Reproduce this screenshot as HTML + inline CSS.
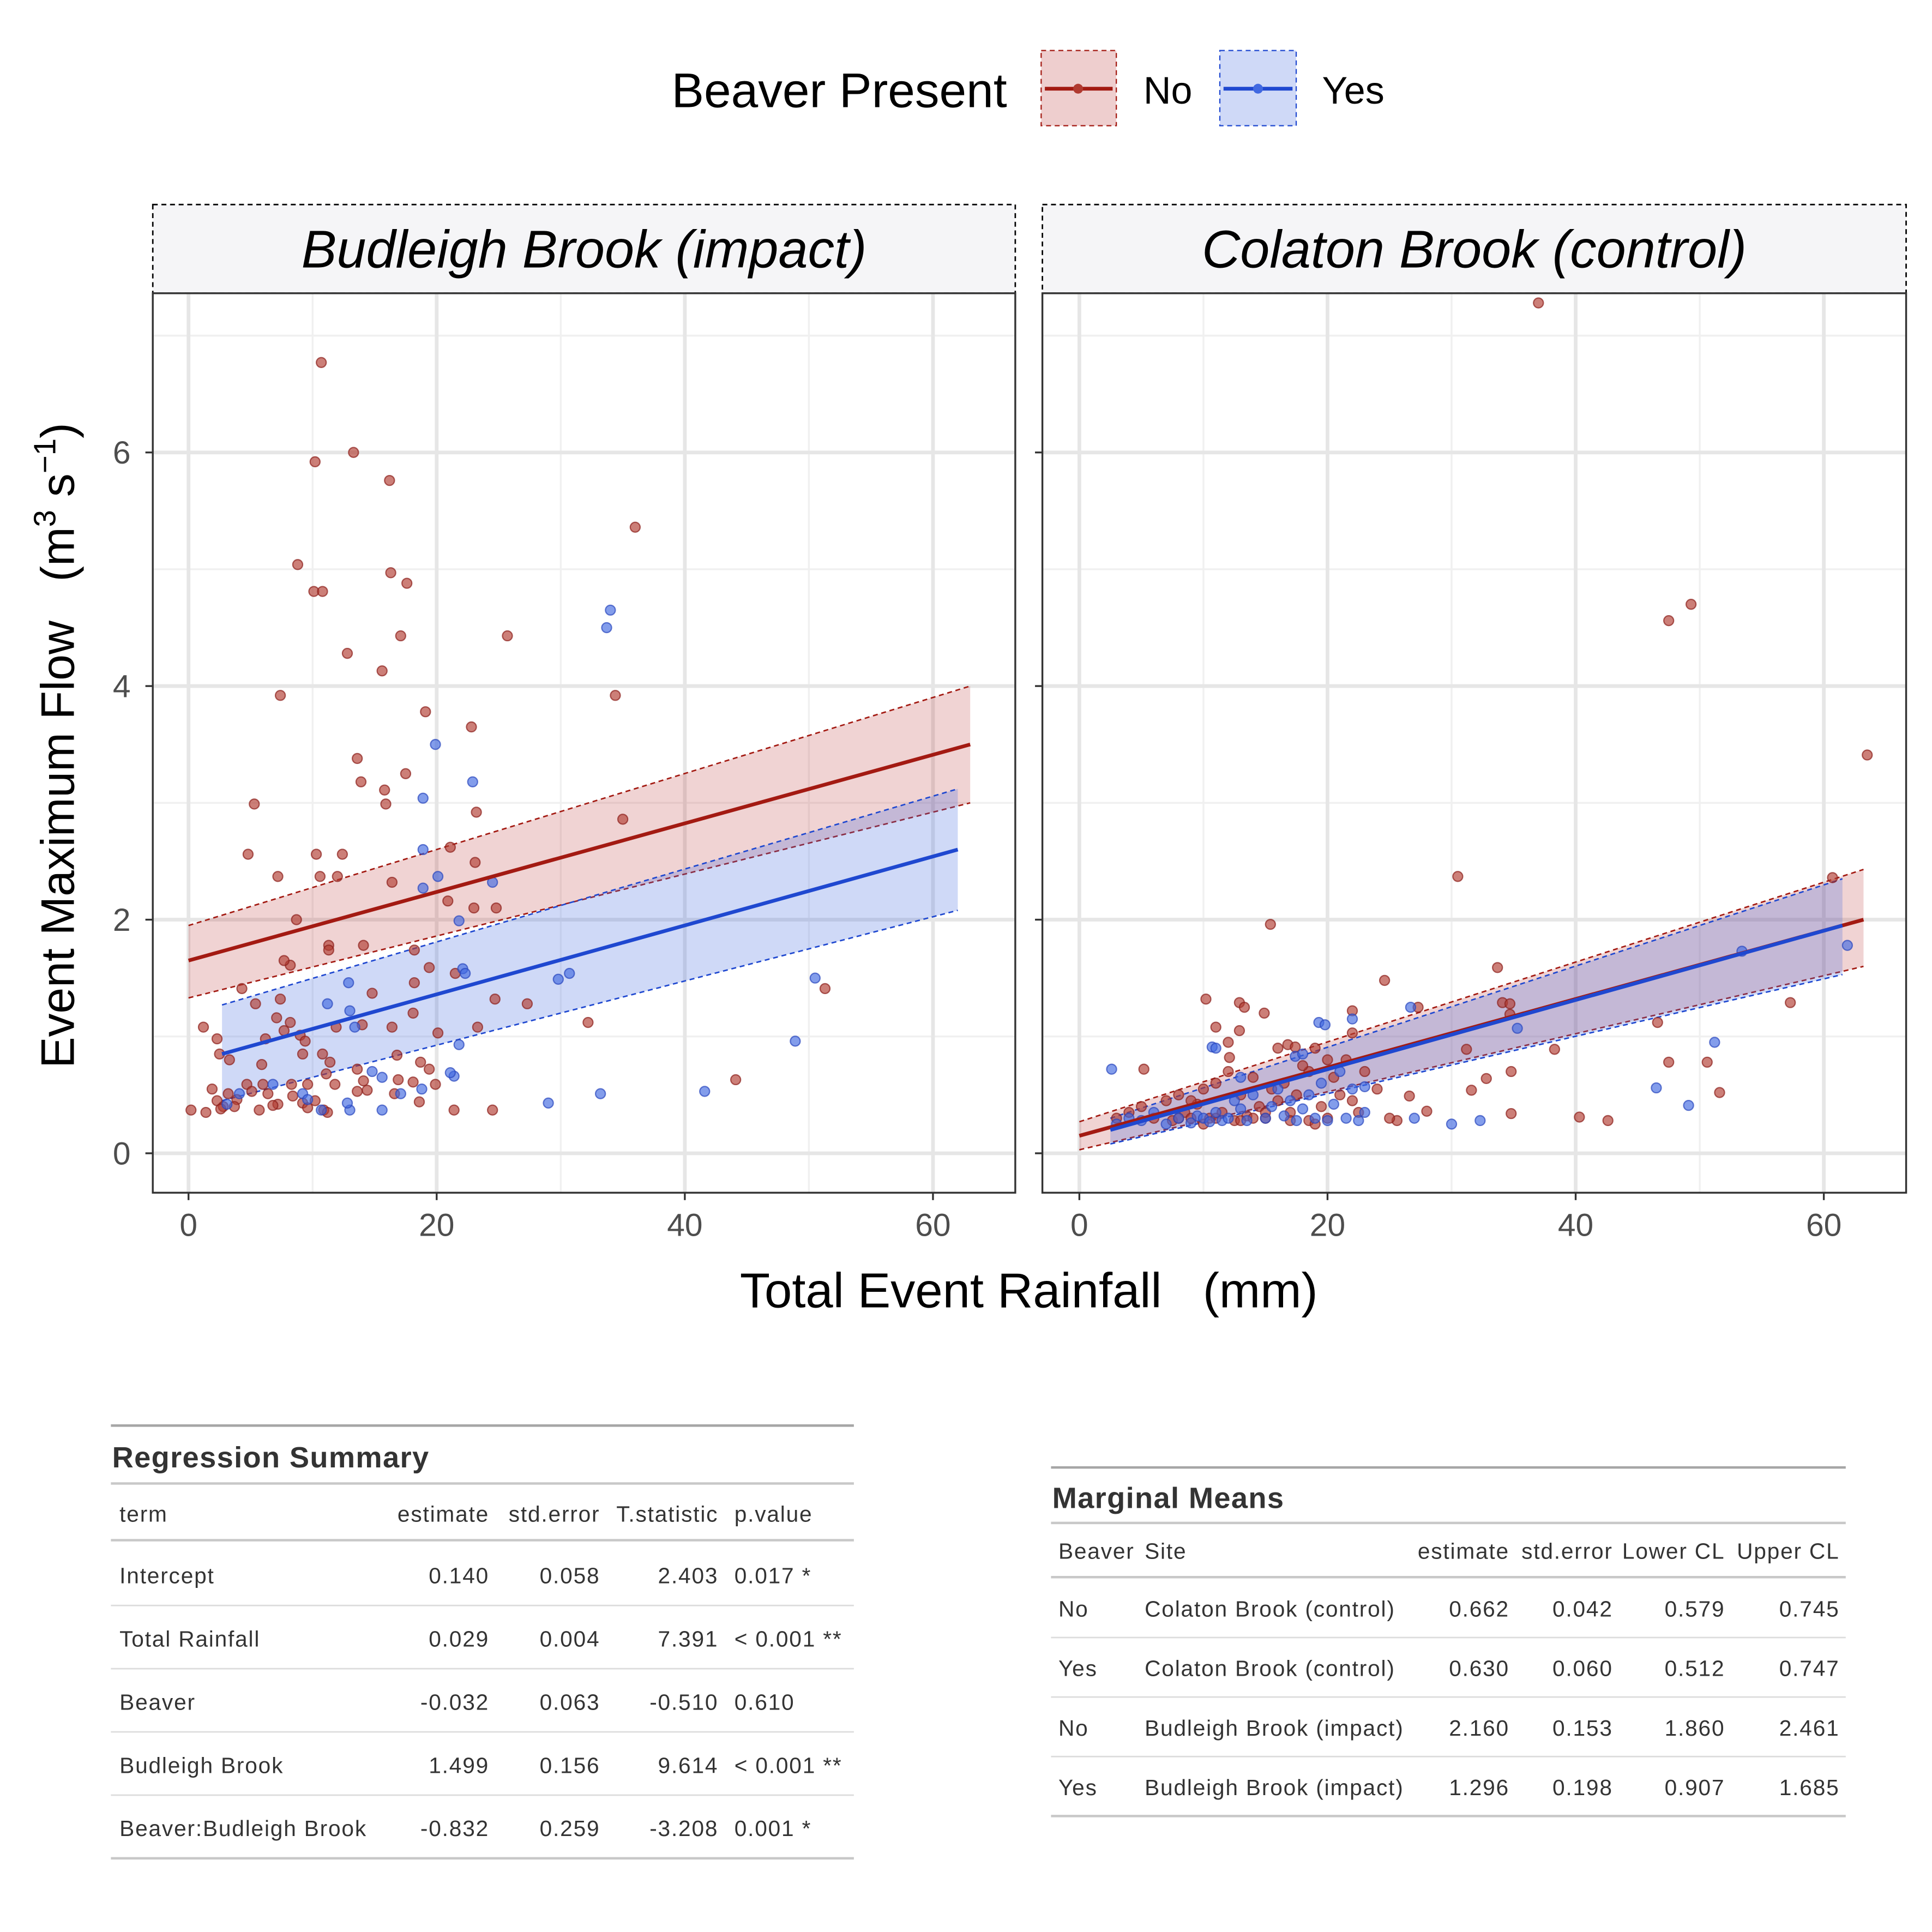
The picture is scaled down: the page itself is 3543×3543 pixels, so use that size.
<!DOCTYPE html>
<html><head><meta charset="utf-8">
<style>
html,body{margin:0;padding:0;background:#fff;}
svg{display:block;font-family:"Liberation Sans",Arial,sans-serif;}
</style></head>
<body>
<svg id="chart" width="3543" height="3543" viewBox="0 0 1568 1568" xmlns="http://www.w3.org/2000/svg">
<rect width="1568" height="1568" fill="#fff"/>
<!-- Legend -->
<g>
  <text x="545" y="87" font-size="39.5" fill="#000">Beaver Present</text>
  <g>
    <rect x="845" y="41" width="61" height="61" fill="rgba(178,34,34,0.22)" stroke="#a31a12" stroke-dasharray="4,3" stroke-width="1"/>
    <line x1="848" y1="72" x2="903" y2="72" stroke="#a31a12" stroke-width="3"/>
    <circle cx="875" cy="72" r="4" fill="#b03a30"/>
    <text x="928" y="84" font-size="31">No</text>
  </g>
  <g>
    <rect x="990" y="41" width="62" height="61" fill="rgba(65,105,225,0.25)" stroke="#1f48d0" stroke-dasharray="4,3" stroke-width="1"/>
    <line x1="993" y1="72" x2="1049" y2="72" stroke="#1f48d0" stroke-width="3"/>
    <circle cx="1021" cy="72" r="4" fill="#4169e1"/>
    <text x="1073" y="84" font-size="31">Yes</text>
  </g>
</g>
<g id="panels"></g>
<text xml:space="preserve" transform="translate(60,605) rotate(-90)" text-anchor="middle" font-size="38">Event Maximum Flow   (m<tspan font-size="25" dy="-15">3</tspan><tspan dy="15"> s</tspan><tspan font-size="25" dy="-15">−1</tspan><tspan dy="15">)</tspan></text>
<text x="835" y="1061" text-anchor="middle" font-size="40" xml:space="preserve">Total Event Rainfall   (mm)</text>

<!-- Regression summary table -->
<g font-size="18" letter-spacing="0.8" fill="#333">
  <line x1="90" y1="1157" x2="693" y2="1157" stroke="#a6a6a6" stroke-width="2"/>
  <text x="91" y="1191" font-size="24" letter-spacing="0.6" font-weight="bold" fill="#333">Regression Summary</text>
  <line x1="90" y1="1204" x2="693" y2="1204" stroke="#c8c8c8" stroke-width="2"/>
  <text x="97" y="1235">term</text>
  <text x="397" y="1235" text-anchor="end">estimate</text>
  <text x="487" y="1235" text-anchor="end">std.error</text>
  <text x="583" y="1235" text-anchor="end">T.statistic</text>
  <text x="596" y="1235">p.value</text>
  <line x1="90" y1="1250" x2="693" y2="1250" stroke="#c8c8c8" stroke-width="2"/>
  <g id="regrows"></g>
</g>
<!-- Marginal means table -->
<g font-size="18" letter-spacing="0.8" fill="#333">
  <line x1="853" y1="1191" x2="1498" y2="1191" stroke="#a6a6a6" stroke-width="2"/>
  <text x="854" y="1224" font-size="24" letter-spacing="0.6" font-weight="bold">Marginal Means</text>
  <line x1="853" y1="1236" x2="1498" y2="1236" stroke="#c8c8c8" stroke-width="2"/>
  <text x="859" y="1265">Beaver</text>
  <text x="929" y="1265">Site</text>
  <text x="1225" y="1265" text-anchor="end">estimate</text>
  <text x="1309" y="1265" text-anchor="end">std.error</text>
  <text x="1400" y="1265" text-anchor="end">Lower CL</text>
  <text x="1493" y="1265" text-anchor="end">Upper CL</text>
  <line x1="853" y1="1280" x2="1498" y2="1280" stroke="#c8c8c8" stroke-width="2"/>
  <g id="mmrows"></g>
</g>
</svg>
<script>
// ---- data ----
const xTicks = [0, 20, 40, 60];
const yTicks = [0, 2, 4, 6];
const budNo = [[10.7,6.77],[10.2,5.92],[13.3,6.0],[16.2,5.76],[36,5.36],[8.8,5.04],[16.3,4.97],[17.6,4.88],[10.1,4.81],[10.8,4.81],[12.8,4.28],[17.1,4.43],[25.7,4.43],[15.6,4.13],[7.4,3.92],[34.4,3.92],[19.1,3.78],[22.8,3.65],[13.6,3.38],[13.9,3.18],[17.5,3.25],[15.8,3.11],[15.9,2.99],[5.3,2.99],[23.2,2.92],[35,2.86],[4.8,2.56],[10.3,2.56],[12.4,2.56],[21.1,2.62],[23.1,2.49],[10.6,2.37],[12,2.37],[7.2,2.37],[16.4,2.32],[20.9,2.16],[23,2.1],[24.8,2.1],[8.7,2.0],[8.2,1.61],[7.7,1.65],[11.3,1.78],[11.3,1.74],[14.1,1.78],[18.2,1.74],[19.4,1.59],[21.5,1.54],[4.3,1.41],[14.8,1.37],[18.2,1.46],[24.7,1.32],[27.3,1.28],[5.4,1.28],[7.4,1.32],[7.1,1.16],[8.2,1.12],[7.7,1.05],[6.2,0.98],[9.0,1.01],[9.4,0.96],[11.9,1.08],[14.0,1.10],[16.4,1.08],[20.1,1.03],[23.3,1.08],[32.2,1.12],[18.1,1.2],[1.2,1.08],[2.3,0.98],[2.5,0.85],[3.3,0.80],[9.2,0.85],[10.8,0.85],[11.4,0.78],[5.9,0.76],[13.6,0.72],[16.8,0.84],[18.7,0.78],[19.4,0.72],[14.1,0.62],[14.4,0.54],[16.9,0.63],[18.1,0.61],[19.9,0.59],[1.9,0.55],[3.2,0.51],[4.7,0.59],[6.0,0.59],[8.3,0.59],[9.6,0.59],[11.1,0.68],[2.3,0.45],[2.8,0.4],[3.9,0.46],[5.1,0.53],[6.4,0.51],[7.2,0.42],[8.4,0.49],[9.2,0.43],[10.2,0.45],[11.8,0.59],[13.6,0.53],[16.6,0.51],[18.6,0.44],[0.2,0.37],[1.4,0.35],[2.6,0.38],[3.7,0.4],[5.7,0.37],[6.8,0.41],[9.6,0.39],[10.9,0.37],[11.2,0.35],[21.4,0.37],[24.5,0.37],[44.1,0.63],[51.3,1.41]];
const budYes = [[19.9,3.5],[22.9,3.18],[34,4.65],[33.7,4.5],[18.9,3.04],[18.9,2.6],[20.1,2.37],[24.5,2.32],[18.9,2.27],[21.8,1.99],[22.1,1.58],[22.3,1.54],[29.8,1.49],[30.7,1.54],[50.5,1.5],[12.9,1.46],[11.2,1.28],[13,1.22],[13.4,1.08],[48.9,0.96],[21.8,0.93],[14.8,0.7],[15.6,0.65],[21.4,0.66],[21.1,0.69],[18.8,0.55],[17.1,0.51],[9.2,0.51],[41.6,0.53],[33.2,0.51],[29,0.43],[4.1,0.51],[10.7,0.37],[13,0.37],[15.6,0.37],[12.8,0.43],[9.6,0.46],[6.8,0.59],[3.1,0.42]];
const colNo = [[37,7.28],[49.3,4.7],[47.5,4.56],[63.5,3.41],[30.5,2.37],[60.7,2.36],[15.4,1.96],[24.6,1.48],[33.7,1.59],[57.3,1.29],[10.2,1.32],[12.9,1.29],[13.3,1.25],[14.9,1.2],[22.0,1.22],[27.3,1.25],[34.1,1.29],[34.7,1.28],[34.7,1.19],[46.6,1.12],[11.0,1.08],[12.9,1.05],[16.8,0.93],[17.4,0.91],[22,1.03],[38.3,0.89],[31.2,0.89],[47.5,0.78],[50.6,0.78],[34.8,0.7],[32.8,0.64],[20,0.8],[18.5,0.7],[12.1,0.82],[5.2,0.72],[31.6,0.54],[51.6,0.52],[26.6,0.49],[40.3,0.31],[42.6,0.28],[34.8,0.34],[28,0.36],[25.6,0.28],
[3,0.3],[4,0.35],[5,0.4],[6,0.3],[7,0.45],[7.5,0.28],[8,0.5],[8.5,0.35],[9,0.3],[9.5,0.42],[10,0.55],[10.5,0.3],[11,0.6],[11.5,0.35],[12,0.7],[12.5,0.28],[13,0.5],[13.5,0.32],[14,0.65],[14.5,0.4],[15,0.3],[15.5,0.55],[16,0.45],[16.5,0.6],[17,0.35],[17.5,0.5],[18,0.75],[18.5,0.28],[19,0.9],[19.5,0.4],[20,0.3],[20.5,0.65],[21,0.5],[21.5,0.8],[22,0.45],[22.5,0.35],[23,0.7],[24,0.55],[25,0.3],[12,0.95],[10,0.25],[13,0.28],[15,0.35],[17,0.28],[19,0.25],[16,0.9],[14,0.3],[11,0.3],[9,0.45],[8,0.3]];
const colYes = [[2.6,0.72],[19.3,1.12],[19.8,1.1],[22,1.15],[26.7,1.25],[35.3,1.07],[51.2,0.95],[53.4,1.73],[61.9,1.78],[46.5,0.56],[49.1,0.41],[30,0.25],[32.3,0.28],[27,0.3],[23,0.57],[17.4,0.83],[10.7,0.91],
[3,0.25],[4,0.3],[5,0.28],[6,0.35],[7,0.25],[8,0.3],[9,0.26],[9.5,0.32],[10,0.3],[10.5,0.27],[11,0.35],[11.5,0.28],[12,0.3],[12.5,0.45],[13,0.38],[13.5,0.28],[14,0.5],[15,0.3],[15.5,0.4],[16,0.55],[16.5,0.32],[17,0.45],[17.5,0.28],[18,0.38],[18.5,0.5],[19,0.3],[19.5,0.6],[20,0.28],[20.5,0.42],[21,0.7],[21.5,0.3],[22,0.55],[22.5,0.28],[23,0.35],[13,0.65],[11,0.9],[18,0.85]];
// fit lines: [x0, x1, fit0, fit1, lo0, lo1, hi0, hi1]
const budNoFit = [0, 63, 1.65, 3.5, 1.33, 3.0, 1.95, 4.0];
const budYesFit = [2.7, 62, 0.85, 2.6, 0.45, 2.08, 1.27, 3.12];
const colNoFit = [0, 63.2, 0.15, 2.0, 0.03, 1.6, 0.27, 2.43];
const colYesFit = [2.5, 61.5, 0.2, 1.95, 0.08, 1.53, 0.3, 2.35];
const regTerms = ["Intercept","Total Rainfall","Beaver","Budleigh Brook","Beaver:Budleigh Brook"];
const regEst = ["0.140","0.029","-0.032","1.499","-0.832"];
const regSE = ["0.058","0.004","0.063","0.156","0.259"];
const regT = ["2.403","7.391","-0.510","9.614","-3.208"];
const regP = ["0.017 *","< 0.001 **","0.610","< 0.001 **","0.001 *"];
const mmBeaver = ["No","Yes","No","Yes"];
const mmSite = ["Colaton Brook (control)","Colaton Brook (control)","Budleigh Brook (impact)","Budleigh Brook (impact)"];
const mmEst = ["0.662","0.630","2.160","1.296"];
const mmSE = ["0.042","0.060","0.153","0.198"];
const mmLo = ["0.579","0.512","1.860","0.907"];
const mmHi = ["0.745","0.747","2.461","1.685"];

const NS = "http://www.w3.org/2000/svg";
function mk(tag, attrs, parent){const e=document.createElementNS(NS,tag);for(const k in attrs)e.setAttribute(k,attrs[k]);parent.appendChild(e);return e;}
const panelsG = document.getElementById('panels');
const yScale = v => 936 - v*94.8;
const Y0 = 238, Y1 = 968;

function drawPanel(px0, px1, zeroX, title, noPts, yesPts, noFit, yesFit, name){
  const xs = v => zeroX + v*10.07;
  const g = mk('g', {}, panelsG);
  
  
  const strip = mk('rect',{x:px0,y:166,width:px1-px0,height:72,fill:'#f5f5f7',stroke:'#000','stroke-dasharray':'4,3','stroke-width':1.2},g);
  
  
  const st = mk('text',{x:(px0+px1)/2,y:217,'text-anchor':'middle','font-size':43,'font-style':'italic'},g);
  st.textContent = title;
  
  
  for (let v=1; v<=7; v+=2) mk('line',{x1:px0,x2:px1,y1:yScale(v),y2:yScale(v),stroke:'#f0f0f0','stroke-width':1.5},g);
  for (let v=10; v<=60; v+=20) mk('line',{x1:xs(v),x2:xs(v),y1:Y0,y2:Y1,stroke:'#f0f0f0','stroke-width':1.5},g);
  yTicks.forEach(v=>mk('line',{x1:px0,x2:px1,y1:yScale(v),y2:yScale(v),stroke:'#e6e6e6','stroke-width':3},g));
  xTicks.forEach(v=>mk('line',{x1:xs(v),x2:xs(v),y1:Y0,y2:Y1,stroke:'#e6e6e6','stroke-width':3},g));
  function band(f, fill, stroke, nm){
    const p = [[xs(f[0]),yScale(f[6])],[xs(f[1]),yScale(f[7])],[xs(f[1]),yScale(f[5])],[xs(f[0]),yScale(f[4])]];
    const b = mk('polygon',{points:p.map(q=>q.join(',')).join(' '),fill:fill},g);
    
    
    mk('line',{x1:xs(f[0]),y1:yScale(f[6]),x2:xs(f[1]),y2:yScale(f[7]),stroke:stroke,'stroke-width':1.2,'stroke-dasharray':'4,3'},g);
    mk('line',{x1:xs(f[0]),y1:yScale(f[4]),x2:xs(f[1]),y2:yScale(f[5]),stroke:stroke,'stroke-width':1.2,'stroke-dasharray':'4,3'},g);
  }
  band(noFit,'rgba(178,34,34,0.2)','#a31a12','no');
  band(yesFit,'rgba(65,105,225,0.25)','#1f48d0','yes');
  noPts.forEach(p=>{
    const c = mk('circle',{cx:xs(p[0]),cy:yScale(p[1]),r:4,fill:'rgba(176,58,48,0.65)',stroke:'rgba(140,30,25,0.7)','stroke-width':1},g);
    
    
  });
  yesPts.forEach(p=>{
    const c = mk('circle',{cx:xs(p[0]),cy:yScale(p[1]),r:4,fill:'rgba(65,105,225,0.65)',stroke:'rgba(40,70,190,0.7)','stroke-width':1},g);
    
    
  });
  const l1 = mk('line',{x1:xs(noFit[0]),y1:yScale(noFit[2]),x2:xs(noFit[1]),y2:yScale(noFit[3]),stroke:'#a31a12','stroke-width':3},g);
  
  
  const l2 = mk('line',{x1:xs(yesFit[0]),y1:yScale(yesFit[2]),x2:xs(yesFit[1]),y2:yScale(yesFit[3]),stroke:'#1f48d0','stroke-width':3},g);
  
  
  mk('rect',{x:px0,y:Y0,width:px1-px0,height:Y1-Y0,fill:'none',stroke:'#333','stroke-width':1.5},g);
  xTicks.forEach(v=>{
    mk('line',{x1:xs(v),x2:xs(v),y1:Y1,y2:Y1+6,stroke:'#333','stroke-width':1.5},g);
    const t = mk('text',{x:xs(v),y:Y1+35,'text-anchor':'middle','font-size':26,fill:'#4d4d4d'},g);
    t.textContent = v;
    
    
  });
}
drawPanel(124, 824, 153, 'Budleigh Brook (impact)', budNo, budYes, budNoFit, budYesFit, 'panel-budleigh');
drawPanel(846, 1547, 876, 'Colaton Brook (control)', colNo, colYes, colNoFit, colYesFit, 'panel-colaton');
yTicks.forEach(v=>{
  mk('line',{x1:118,x2:124,y1:yScale(v),y2:yScale(v),stroke:'#333','stroke-width':1.5},panelsG);
  mk('line',{x1:840,x2:846,y1:yScale(v),y2:yScale(v),stroke:'#333','stroke-width':1.5},panelsG);
  const t = mk('text',{x:106,y:yScale(v)+9,'text-anchor':'end','font-size':26,fill:'#4d4d4d'},panelsG);
  t.textContent = v;
  
  
});
const rg = document.getElementById('regrows');
regTerms.forEach((term,i)=>{
  const y = 1285 + i*51.3;
  const row = mk('g',{},rg);
  
  
  mk('text',{x:97,y:y},row).textContent = term;
  mk('text',{x:397,y:y,'text-anchor':'end'},row).textContent = regEst[i];
  mk('text',{x:487,y:y,'text-anchor':'end'},row).textContent = regSE[i];
  mk('text',{x:583,y:y,'text-anchor':'end'},row).textContent = regT[i];
  mk('text',{x:596,y:y},row).textContent = regP[i];
  const last = i===regTerms.length-1;
  mk('line',{x1:90,x2:693,y1:1303+i*51.3,y2:1303+i*51.3,stroke:last?'#c8c8c8':'#dcdcdc','stroke-width':last?2:1.2},rg);
});
const mg = document.getElementById('mmrows');
mmBeaver.forEach((b,i)=>{
  const y = 1312 + i*48.3;
  const row = mk('g',{},mg);
  
  
  mk('text',{x:859,y:y},row).textContent = b;
  mk('text',{x:929,y:y},row).textContent = mmSite[i];
  mk('text',{x:1225,y:y,'text-anchor':'end'},row).textContent = mmEst[i];
  mk('text',{x:1309,y:y,'text-anchor':'end'},row).textContent = mmSE[i];
  mk('text',{x:1400,y:y,'text-anchor':'end'},row).textContent = mmLo[i];
  mk('text',{x:1493,y:y,'text-anchor':'end'},row).textContent = mmHi[i];
  const last = i===mmBeaver.length-1;
  mk('line',{x1:853,x2:1498,y1:1329+i*48.3,y2:1329+i*48.3,stroke:last?'#c8c8c8':'#dcdcdc','stroke-width':last?2:1.2},mg);
});
</script>
</body></html>
